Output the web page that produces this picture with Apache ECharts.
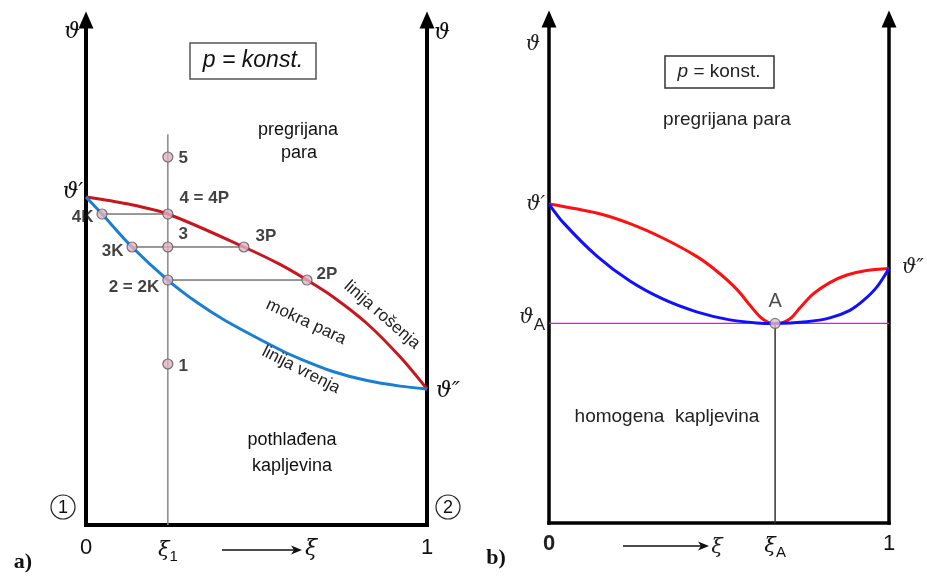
<!DOCTYPE html>
<html><head><meta charset="utf-8">
<script src="https://cdn.jsdelivr.net/npm/echarts@6/dist/echarts.min.js"></script>
<style>html,body{margin:0;padding:0;background:#fff}#c{width:927px;height:576px}</style>
</head><body><div id="c"></div>
<script>
// ---------- data (panel a) ----------
const xi1 = 0.24;
const xi1LineTop = 77.4;
const leftRedX = [0, 0.12, 0.24, 0.463, 0.569, 0.648, 0.724, 0.824, 0.921, 1];
const leftRedY = [64.95, 63.6, 61.58, 55.05, 51.6, 48.51, 45.2, 39.9, 33.3, 26.93];
const leftBlueX = [0, 0.047, 0.135, 0.24, 0.326, 0.408, 0.569, 0.628, 0.724, 0.824, 0.921, 1];
const leftBlueY = [64.95, 61.58, 55.05, 48.51, 44.04, 40.5, 34.7, 32.9, 30.4, 28.6, 27.5, 26.93];
const pointNames = ['5', '4 = 4P', '4K', '3', '3K', '3P', '2 = 2K', '2P', '1'];
const pointX = [xi1, xi1, 0.047, xi1, 0.135, 0.463, xi1, 0.648, xi1];
const pointY = [72.87, 61.58, 61.58, 55.05, 55.05, 55.05, 48.51, 48.51, 31.88];
// tie lines: pairs of point indices
const tiePairs = [[2, 1], [4, 5], [6, 7]];
const leftTickVals = [0, xi1, 1];
const leftTickLabels = ['0', '{x|ξ}{s|1}', '1'];

// ---------- data (panel b) ----------
const xiA = 0.665;
const thetaA = 39.6;
const rightRedX = [0, 0.14, 0.238, 0.336, 0.434, 0.493, 0.552, 0.591, 0.621, 0.645, 0.665, 0.689, 0.714, 0.738, 0.778, 0.826, 0.876, 0.934, 1];
const rightRedY = [63.29, 61.5, 59.4, 56.5, 52.9, 50.0, 46.4, 43.2, 40.9, 39.8, 39.6, 39.8, 40.8, 42.7, 45.5, 47.7, 49.2, 50.1, 50.5];
const rightBlueX = [0, 0.042, 0.14, 0.238, 0.336, 0.434, 0.532, 0.611, 0.665, 0.758, 0.826, 0.885, 0.924, 0.964, 1];
const rightBlueY = [63.29, 59.6, 53.0, 48.0, 44.4, 41.9, 40.3, 39.7, 39.6, 39.94, 40.7, 42.2, 44.1, 46.8, 50.5];
const rightTickVals = [0, xiA, 1];
const rightTickLabels = ['{b|0}', '{x|ξ}{s|A}', '1'];

const zip = (xs, ys) => xs.map((x, i) => [x, ys[i]]);

const ptLabel = {
  '5': {position: 'right', distance: 5, offset: [0, 1]},
  '4 = 4P': {position: 'right', distance: 6, offset: [0, -16]},
  '4K': {position: 'left', distance: 3, offset: [0, 3]},
  '3': {position: 'right', distance: 5, offset: [0, -13]},
  '3K': {position: 'left', distance: 3, offset: [0, 4]},
  '3P': {position: 'right', distance: 6, offset: [0, -11]},
  '2 = 2K': {position: 'left', distance: 3, offset: [0, 7]},
  '2P': {position: 'right', distance: 4, offset: [0, -6]},
  '1': {position: 'right', distance: 5, offset: [0, 2]}
};

const SANS = 'Liberation Sans';
const MATH = 'DejaVu Serif';

function yAx(grid, pos, w) {
  return {
    gridIndex: grid, type: 'value', min: 0, max: 100, position: pos,
    axisLine: {show: true, onZero: false, symbol: ['none', 'triangle'], symbolSize: [15, 17],
      lineStyle: {color: '#000', width: w, cap: 'square'}},
    axisTick: {show: false}, axisLabel: {show: false}, splitLine: {show: false}
  };
}
function xAx(grid, w, vals, labels, margin) {
  return {
    gridIndex: grid, type: 'value', min: 0, max: 1,
    axisLine: {show: true, onZero: false, lineStyle: {color: '#000', width: w, cap: 'square'}},
    axisTick: {show: false}, splitLine: {show: false},
    axisLabel: {
      customValues: vals, margin: margin, fontFamily: SANS, fontSize: 22, color: '#111',
      formatter: v => { const i = vals.findIndex(t => Math.abs(t - v) < 1e-9); return i >= 0 ? labels[i] : ''; },
      rich: {
        x: {fontFamily: MATH, fontStyle: 'italic', fontSize: 21, color: '#111'},
        s: {fontFamily: SANS, fontSize: 15, color: '#111', padding: [12, 0, 0, 0]},
        b: {fontFamily: SANS, fontSize: 22, fontWeight: 'bold', color: '#222'}
      }
    }
  };
}

const series = [];
// panel a
series.push({type: 'line', xAxisIndex: 0, yAxisIndex: 0, data: [[xi1, 0], [xi1, xi1LineTop]],
  symbol: 'none', lineStyle: {color: '#888', width: 1.5}, z: 1});
tiePairs.forEach(p => series.push({type: 'line', xAxisIndex: 0, yAxisIndex: 0,
  data: [[pointX[p[0]], pointY[p[0]]], [pointX[p[1]], pointY[p[1]]]],
  symbol: 'none', lineStyle: {color: '#333', width: 1}, z: 2}));
series.push({type: 'line', xAxisIndex: 0, yAxisIndex: 0, data: zip(leftRedX, leftRedY), smooth: 0.3,
  symbol: 'none', lineStyle: {color: '#c8161e', width: 3}, z: 3});
series.push({type: 'line', xAxisIndex: 0, yAxisIndex: 0, data: zip(leftBlueX, leftBlueY), smooth: 0.3,
  symbol: 'none', lineStyle: {color: '#1a7fd0', width: 3}, z: 3});
series.push({type: 'scatter', xAxisIndex: 0, yAxisIndex: 0, symbolSize: 10, z: 5,
  itemStyle: {color: '#e2b2c6', borderColor: '#555', borderWidth: 1.2},
  data: pointNames.map((n, i) => ({value: [pointX[i], pointY[i]], name: n,
    label: Object.assign({show: true, formatter: n, fontFamily: SANS, fontWeight: 'bold', fontSize: 17, color: '#111'}, ptLabel[n])}))});
// panel b
series.push({type: 'line', xAxisIndex: 1, yAxisIndex: 2, data: [[0, thetaA], [1, thetaA]],
  symbol: 'none', lineStyle: {color: '#ff00ff', width: 1.2}, z: 1});
series.push({type: 'line', xAxisIndex: 1, yAxisIndex: 2, data: [[xiA, 0], [xiA, thetaA]],
  symbol: 'none', lineStyle: {color: '#333', width: 1.5}, z: 1});
series.push({type: 'line', xAxisIndex: 1, yAxisIndex: 2, data: zip(rightRedX, rightRedY), smooth: 0.3,
  symbol: 'none', lineStyle: {color: '#ff1010', width: 3}, z: 3});
series.push({type: 'line', xAxisIndex: 1, yAxisIndex: 2, data: zip(rightBlueX, rightBlueY), smooth: 0.3,
  symbol: 'none', lineStyle: {color: '#1010ff', width: 3}, z: 3});
series.push({type: 'scatter', xAxisIndex: 1, yAxisIndex: 2, symbolSize: 10, z: 5,
  itemStyle: {color: '#e8bccb', borderColor: '#666', borderWidth: 1.2},
  data: [{value: [xiA, thetaA], name: 'A',
    label: {show: true, formatter: 'A', position: 'top', distance: 6, fontFamily: SANS, fontSize: 20, color: '#222'}}]});

const D = Math.PI / 180;
function T(text, x, y, font, opts) {
  return Object.assign({type: 'text', x: x, y: y, z: 10,
    style: Object.assign({text: text, font: font, fill: '#111', align: 'center', verticalAlign: 'middle'}, (opts && opts.style) || {})},
    opts && opts.rotation !== undefined ? {rotation: opts.rotation} : {});
}
function arrow(x1, x2, y) {
  return [
    {type: 'line', shape: {x1: x1, y1: y, x2: x2 - 8, y2: y}, style: {stroke: '#111', lineWidth: 1.3}},
    {type: 'polygon', shape: {points: [[x2, y], [x2 - 11, y - 4.5], [x2 - 8, y], [x2 - 11, y + 4.5]]}, style: {fill: '#111'}}
  ];
}
const it = 'italic 22px "' + MATH + '"';
const graphics = [
  // panel a
  T('ϑ', 72, 32, it), T('ϑ', 442, 33, it),
  T('ϑ′', 73, 192, it), T('ϑ″', 448, 391, it),
  {type: 'rect', shape: {x: 190, y: 43, width: 126, height: 36}, style: {fill: '#fff', stroke: '#555', lineWidth: 1.5}},
  T('p = konst.', 253, 61, 'italic 23px "' + SANS + '"'),
  T('pregrijana', 298, 130, '18px "' + SANS + '"'),
  T('para', 299, 153, '18px "' + SANS + '"'),
  T('mokra para', 306, 322, '17px "' + SANS + '"', {rotation: -25 * D, style: {fill: '#222'}}),
  T('linija vrenja', 301, 370, '17px "' + SANS + '"', {rotation: -27 * D, style: {fill: '#222'}}),
  T('linija rošenja', 382, 315, '17px "' + SANS + '"', {rotation: -41 * D, style: {fill: '#222'}}),
  T('pothlađena', 292, 440, '18px "' + SANS + '"'),
  T('kapljevina', 292, 466, '18px "' + SANS + '"'),
  {type: 'circle', shape: {cx: 63, cy: 507, r: 12}, style: {fill: '#fff', stroke: '#222', lineWidth: 1.2}},
  T('1', 63, 508, '18px "' + SANS + '"'),
  {type: 'circle', shape: {cx: 448, cy: 507, r: 12}, style: {fill: '#fff', stroke: '#222', lineWidth: 1.2}},
  T('2', 448, 508, '18px "' + SANS + '"'),
  ...arrow(222, 302, 550),
  T('ξ', 311, 549, it),
  T('a)', 23, 562, 'bold 22px "Liberation Serif"'),
  // panel b
  T('ϑ', 533, 45, 'italic 20px "' + MATH + '"', {style: {fill: '#222'}}),
  T('ϑ′', 545, 205, 'italic 20px "' + MATH + '"', {style: {align: 'right', fill: '#222'}}),
  {type: 'text', x: 545, y: 318, z: 10, style: {text: '{a|ϑ}{b|A}', align: 'right', verticalAlign: 'middle',
    rich: {a: {font: 'italic 20px "' + MATH + '"', fill: '#222'}, b: {font: '17px "' + SANS + '"', fill: '#222', padding: [14, 0, 0, 0]}}}},
  T('ϑ″', 902, 268, 'italic 20px "' + MATH + '"', {style: {align: 'left', fill: '#222'}}),
  {type: 'rect', shape: {x: 665, y: 56, width: 109, height: 32}, style: {fill: '#fff', stroke: '#333', lineWidth: 1.5}},
  {type: 'text', x: 719, y: 72, z: 10, style: {text: '{i|p}{n| = konst.}', align: 'center', verticalAlign: 'middle',
    rich: {i: {font: 'italic 19px "' + SANS + '"', fill: '#222'}, n: {font: '19px "' + SANS + '"', fill: '#222'}}}},
  T('pregrijana para', 727, 120, '19px "' + SANS + '"', {style: {fill: '#222'}}),
  T('homogena  kapljevina', 667, 417, '19px "' + SANS + '"', {style: {fill: '#222'}}),
  ...arrow(623, 709, 546),
  T('ξ', 717, 548, 'italic 21px "' + MATH + '"', {style: {fill: '#222'}}),
  T('b)', 496, 558, 'bold 22px "Liberation Serif"')
];

const chart = echarts.init(document.getElementById('c'), null, {renderer: 'canvas'});
chart.setOption({
  animation: false,
  backgroundColor: '#fff',
  grid: [
    {left: 86, top: 20, width: 341, height: 505},
    {left: 549, top: 19, width: 340, height: 504}
  ],
  xAxis: [xAx(0, 4, leftTickVals, leftTickLabels, 12), xAx(1, 3.5, rightTickVals, rightTickLabels, 10)],
  yAxis: [yAx(0, 'left', 4), yAx(0, 'right', 4), yAx(1, 'left', 3.5), yAx(1, 'right', 3.5)],
  series: series,
  graphic: graphics
});
</script></body></html>
